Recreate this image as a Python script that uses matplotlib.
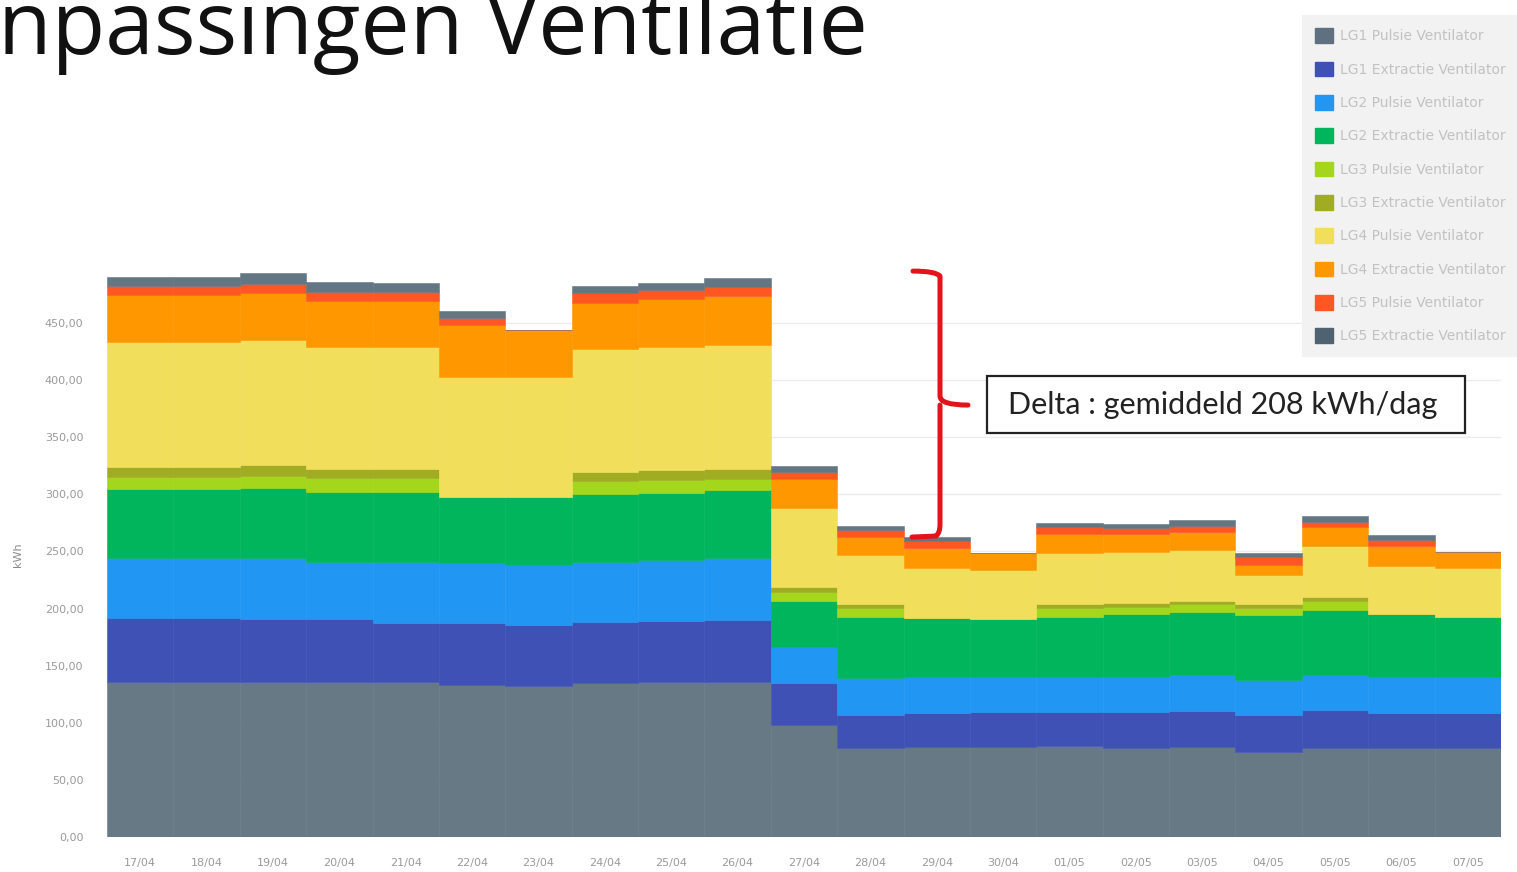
import matplotlib.pyplot as plt
from matplotlib.patches import Patch, Rectangle, PathPatch
from matplotlib.path import Path
import numpy as np

# Data (kWh per dag)
days = ['17/04', '18/04', '19/04', '20/04', '21/04', '22/04', '23/04', '24/04', '25/04', '26/04',
        '27/04', '28/04', '29/04', '30/04', '01/05', '02/05', '03/05', '04/05', '05/05', '06/05', '07/05']

lg1_pulsie = [136.0, 136.0, 136.0, 136.0, 135.5, 133.0, 132.2, 135.1, 136.0, 136.0,
              98.1, 77.6, 79.0, 79.0, 79.7, 77.5, 78.5, 74.6, 77.6, 77.6, 77.6]
lg1_extractie = [55.4, 55.4, 55.0, 54.5, 51.5, 54.0, 53.4, 53.4, 53.1, 54.0,
                 37.0, 29.2, 29.2, 30.6, 29.9, 32.1, 32.0, 32.2, 33.6, 31.1, 30.6]
lg2_pulsie = [53.1, 53.1, 53.5, 50.5, 54.0, 52.5, 52.4, 52.5, 53.4, 54.0,
              31.5, 32.0, 32.1, 30.2, 30.2, 30.7, 31.3, 31.1, 30.6, 31.1, 31.6]
lg2_extractie = [59.9, 59.9, 61.5, 60.7, 60.7, 58.4, 60.0, 59.7, 58.8, 59.8,
                 40.0, 54.1, 51.1, 51.1, 53.1, 55.3, 54.8, 56.5, 56.9, 55.8, 53.0]
lg3_pulsie = [11.1, 11.1, 10.5, 12.3, 12.3, 0.0, 0.0, 11.2, 11.3, 10.1,
              8.2, 8.0, 0.0, 0.0, 8.0, 5.9, 7.4, 6.5, 7.9, 0.0, 0.0]
lg3_extractie = [8.5, 8.5, 9.2, 8.2, 8.2, 0.0, 0.0, 7.9, 8.7, 8.7,
                 4.4, 3.5, 0.0, 0.0, 3.5, 3.5, 2.6, 3.5, 3.7, 0.0, 0.0]
lg4_pulsie = [109.7, 109.7, 109.3, 106.5, 106.5, 105.1, 105.0, 107.2, 107.4, 108.1,
              68.5, 42.5, 43.8, 42.9, 43.9, 44.7, 45.1, 25.0, 44.5, 41.7, 42.4]
lg4_extractie = [40.8, 40.8, 41.0, 40.8, 40.8, 45.3, 40.9, 40.2, 42.0, 42.9,
                 26.2, 16.0, 18.3, 15.0, 17.0, 16.0, 15.6, 8.7, 16.3, 17.5, 14.5]
lg5_pulsie = [7.9, 7.9, 8.0, 7.9, 7.9, 6.5, 0.0, 8.8, 8.2, 8.2,
              5.9, 5.9, 5.6, 0.0, 5.8, 5.0, 5.0, 7.1, 4.9, 5.2, 0.0]
lg5_extractie = [7.9, 7.6, 9.8, 8.5, 7.6, 6.0, 0.0, 6.4, 6.4, 7.3,
                 5.0, 3.5, 3.8, 0.0, 4.1, 3.3, 5.2, 3.6, 5.0, 4.4, 0.0]

series = [lg1_pulsie, lg1_extractie, lg2_pulsie, lg2_extractie, lg3_pulsie,
          lg3_extractie, lg4_pulsie, lg4_extractie, lg5_pulsie, lg5_extractie]
labels = ['LG1 Pulsie Ventilator', 'LG1 Extractie Ventilator', 'LG2 Pulsie Ventilator',
          'LG2 Extractie Ventilator', 'LG3 Pulsie Ventilator', 'LG3 Extractie Ventilator',
          'LG4 Pulsie Ventilator', 'LG4 Extractie Ventilator', 'LG5 Pulsie Ventilator',
          'LG5 Extractie Ventilator']
colors = ['#667985', '#3f51b5', '#2196f3', '#00b55c', '#a4d61c',
          '#a0ac22', '#f1df5c', '#ff9800', '#ff5722', '#637684']
legend_colors = ['#5f7080', '#3f51b5', '#2196f3', '#00b55c', '#a4d61c',
                 '#a0ac22', '#f1df5c', '#ff9800', '#ff5722', '#4f6272']

W, H = 1517, 872
fig = plt.figure(figsize=(W / 100, H / 100), dpi=100)
ax = fig.add_axes([107 / W, 1 - 837 / H, (1501 - 107) / W, (837 - 266) / H])

x = np.arange(len(days))
bottom = np.zeros(len(days))
for vals, c in zip(series, colors):
    ax.bar(x, vals, width=1.0, bottom=bottom, color=c, edgecolor=c, linewidth=0.4, zorder=2)
    bottom += np.array(vals)

ax.set_xlim(-0.5, len(days) - 0.5)
ax.set_ylim(0, 500)
yt = np.arange(0, 451, 50)
ax.set_yticks(yt)
ax.set_yticklabels([f'{v:.2f}'.replace('.', ',') for v in yt])
ax.set_xticks(x)
ax.set_xticklabels(days)
ax.tick_params(axis='both', length=0, labelsize=8, labelcolor='#9a9a9a')
ax.tick_params(axis='y', pad=17)
ax.tick_params(axis='x', pad=15)
ax.grid(True, axis='y', color='#ececec', linewidth=1, zorder=0)
for s in ax.spines.values():
    s.set_visible(False)

fig.text(18 / W, 1 - 555 / H, 'kWh', rotation=90, ha='center', va='center',
         fontsize=8, color='#8a8a8a')

# Titel (links afgesneden zoals in de dia)
fig.text(868 / W, 1 - 54 / H, 'Aanpassingen Ventilatie', ha='right', va='baseline',
         fontsize=63, family='Open Sans', color='#111111')

# Accolade
def px(xp, yp):
    return ((xp - 107) / 66.38 - 0.5, (837 - yp) / 1.1422)

verts = [px(913, 271), px(936, 271), px(940, 276), px(940, 285),
         px(940, 396), px(940, 405), px(968, 405),
         px(940, 405), px(940, 414), px(940, 524),
         px(940, 533), px(936, 536), px(912, 537)]
codes = [Path.MOVETO, Path.CURVE3, Path.CURVE3, Path.LINETO,
         Path.LINETO, Path.CURVE3, Path.LINETO,
         Path.MOVETO, Path.CURVE3, Path.LINETO,
         Path.CURVE3, Path.CURVE3, Path.LINETO]
ax.add_patch(PathPatch(Path(verts, codes), facecolor='none', edgecolor='#e3121b',
                       linewidth=3.6, capstyle='round', joinstyle='round', clip_on=False, zorder=5))

fig.add_artist(Rectangle((987 / W, 1 - 433 / H), (1465 - 987) / W, (433 - 376) / H,
                         transform=fig.transFigure, facecolor='white', edgecolor='#222222',
                         linewidth=1.6, zorder=6))
fig.text(1223 / W, 1 - 405 / H, 'Delta : gemiddeld 208 kWh/dag', ha='center', va='center',
         fontsize=22, family='Lato', color='#222222', zorder=7)

handles = [Patch(facecolor=c, edgecolor=c) for c in legend_colors]
leg = fig.legend(handles, labels, loc='upper left', bbox_to_anchor=(1302 / W, 1 - 15 / H),
                 frameon=True, fancybox=False, facecolor='#f2f2f2', edgecolor='none', framealpha=1,
                 fontsize=10, labelcolor='#c2c2c2', handlelength=1.25, handleheight=1.25,
                 handletextpad=0.55, labelspacing=1.32, borderpad=0.95, borderaxespad=0)

fig.savefig('out.png', dpi=100)
